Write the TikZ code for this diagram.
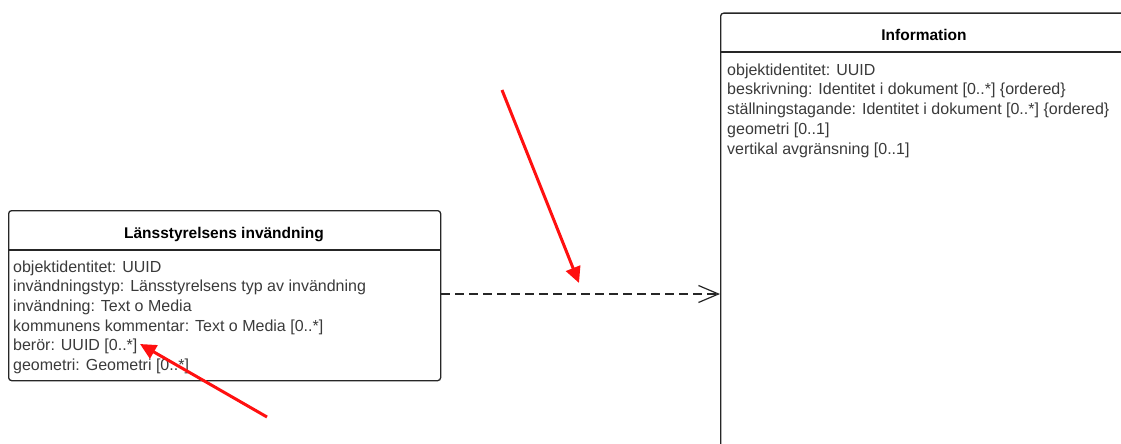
\documentclass[tikz,border=0pt]{standalone}
\usepackage{fontspec}
\setmainfont{Liberation Sans}
\usetikzlibrary{arrows.meta}
\definecolor{attrgray}{HTML}{3A3A3A}
\definecolor{boxline}{HTML}{262626}
\definecolor{markred}{HTML}{FF1010}
\tikzset{
  classbox/.style={draw=boxline, line width=1.3pt, rounded corners=3pt},
  divider/.style={draw=boxline, line width=1.2pt},
  title/.style={font=\fontsize{15.5}{18}\selectfont\bfseries, text=black, inner sep=0pt, anchor=base},
  attr/.style={font=\fontsize{16}{18}\selectfont, text=attrgray, inner sep=0pt, anchor=base west},
  dep/.style={draw=boxline, line width=1.2pt, dash pattern=on 9pt off 5pt,
    -{Straight Barb[length=20pt,width=17pt,line width=1.2pt]}},
  marker/.style={draw=markred, line width=3pt, -{Triangle[length=16pt,width=15pt]}}
}
\begin{document}
\begin{tikzpicture}[x=1pt,y=-1pt]
\useasboundingbox (0,0) rectangle (1121,444);
\clip (0,0) rectangle (1121,444);
% left class
\node[classbox, minimum width=432pt, minimum height=170pt, anchor=north west, inner sep=0pt] (lbox) at (8,210) {};
\draw[divider] (8,250) -- (440,250);
\node[title] (ltitle) at (224,238) {Länsstyrelsens invändning};
\foreach \t [count=\i] in {objektidentitet: UUID,
  invändningstyp: Länsstyrelsens typ av invändning,
  invändning: Text o Media,
  kommunens kommentar: Text o Media [0..*],
  berör: UUID [0..*],
  geometri: Geometri [0..*]}
  \node[attr] (la\i) at (13,{272+19.7*(\i-1)}) {\t};
% right class
\node[classbox, minimum width=420pt, minimum height=450pt, anchor=north west, inner sep=0pt] (rbox) at (720,12.5) {};
\draw[divider] (720,52) -- (1130,52);
\node[title] (rtitle) at (924,41) {Information};
\foreach \t [count=\i] in {objektidentitet: UUID,
  beskrivning: Identitet i dokument [0..*] \{ordered\},
  ställningstagande: Identitet i dokument [0..*] \{ordered\},
  geometri [0..1],
  vertikal avgränsning [0..1]}
  \node[attr] (ra\i) at (727,{75+19.8*(\i-1)}) {\t};
% dependency
\coordinate (dstart) at (lbox.east |- 0,294);
\coordinate (dend) at (rbox.west |- 0,294);
\draw[dep] (dstart) -- (dend);
% red markers
\coordinate (m1s) at (502,90);
\coordinate (m1e) at (579,283);
\draw[marker] (m1s) -- (m1e);
\coordinate (m2s) at (267,417);
\coordinate (m2e) at (140,344);
\draw[marker] (m2s) -- (m2e);
\end{tikzpicture}
\end{document}
